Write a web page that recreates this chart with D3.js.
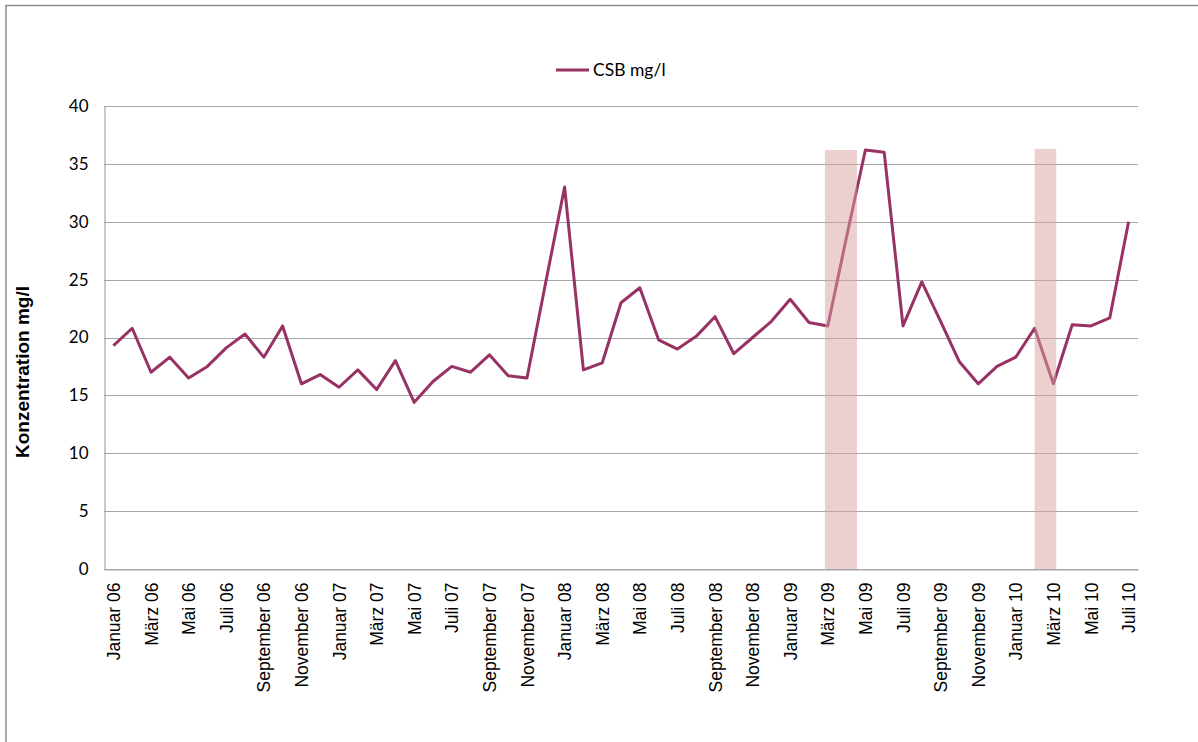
<!DOCTYPE html>
<html>
<head>
<meta charset="utf-8">
<script src="https://cdn.jsdelivr.net/npm/d3@7"></script>
<style>
  body { margin: 0; background: #fff; }
</style>
</head>
<body>
<div id="chart"></div>
<script>
// month names and years -> category labels (Januar 06 ... Juli 10)
const monthNames = ["Januar", "Februar", "März", "April", "Mai", "Juni", "Juli", "August", "September", "Oktober", "November", "Dezember"];
const years = ["06", "07", "08", "09", "10"];
const months = [];
years.forEach(function(y) {
    monthNames.forEach(function(m) { months.push(m + " " + y); });
});
months.length = 55;  // data ends with Juli 10

// CSB mg/l, one value per month
const csb = [
    19.3, 20.8, 17.0, 18.3, 16.5, 17.5, 19.1, 20.3, 18.3, 21.0, 16.0, 16.8,
    15.7, 17.2, 15.5, 18.0, 14.4, 16.2, 17.5, 17.0, 18.5, 16.7, 16.5, 24.8,
    33.0, 17.2, 17.8, 23.0, 24.3, 19.8, 19.0, 20.1, 21.8, 18.6, 20.0, 21.4,
    23.3, 21.3, 21.0, 28.7, 36.2, 36.0, 21.0, 24.8, 21.4, 17.9, 16.0, 17.5,
    18.3, 20.8, 16.0, 21.1, 21.0, 21.7, 30.0
];

const yTicks = [0, 5, 10, 15, 20, 25, 30, 35, 40];

// shaded periods, in month index units
const highlightStart = [37.85, 49.0];
const highlightEnd = [39.55, 50.15];
const highlightTop = [36.2, 36.3];

let width = 1198, height = 742;
let margin = {top: 106, right: 60, bottom: 173, left: 104};

let svg = d3.select("#chart")
  .append("svg")
    .attr("width", width)
    .attr("height", height);

// outer frame
svg.append("rect")
    .attr("x", 6).attr("y", 5.5)
    .attr("width", 1400).attr("height", 1000)
    .attr("fill", "none")
    .attr("stroke", "#8c8c8c")
    .attr("stroke-width", 1.5);

// Scales
let x = d3.scaleLinear()
    .domain([-0.5, months.length - 0.5])
    .range([margin.left, width - margin.right]);
let y = d3.scaleLinear()
    .domain([0, 40])
    .range([height - margin.bottom, margin.top]);

// gridlines
svg.append("g")
  .selectAll("line")
  .data(yTicks)
  .enter()
  .append("line")
    .attr("x1", x(-0.5))
    .attr("x2", x(months.length - 0.5))
    .attr("y1", function(d) { return Math.round(y(d)) + 0.5; })
    .attr("y2", function(d) { return Math.round(y(d)) + 0.5; })
    .attr("stroke", "#a6a6a6")
    .attr("stroke-width", 1.2);

// y axis
let yAxis = svg.append("g")
    .attr("transform", "translate(" + (margin.left + 0.5) + ",0)")
    .call(d3.axisLeft(y).tickValues(yTicks).tickSize(0).tickPadding(16));
yAxis.select(".domain").attr("stroke", "#a6a6a6").attr("stroke-width", 1.2);
yAxis.selectAll("text")
    .style("font-family", "Lato, 'Open Sans', sans-serif")
    .style("font-size", "17px")
    .attr("fill", "#000");

// x axis
let xAxis = svg.append("g")
    .attr("transform", "translate(0," + (Math.round(y(0)) + 0.5) + ")")
    .call(d3.axisBottom(x)
        .tickValues(d3.range(0, months.length, 2))
        .tickFormat(function(i) { return months[i]; })
        .tickSize(0));
xAxis.select(".domain").attr("stroke", "#a6a6a6").attr("stroke-width", 1.2);
xAxis.selectAll("text")
    .attr("transform", "rotate(-90)")
    .attr("text-anchor", "end")
    .attr("x", -13)
    .attr("y", 0)
    .attr("dy", "0.35em")
    .style("font-family", "'Liberation Sans', Arial, sans-serif")
    .style("font-size", "17.5px")
    .attr("fill", "#000");

// the line
let line = d3.line()
    .x(function(d, i) { return x(i); })
    .y(function(d) { return y(d); });

svg.append("path")
    .datum(csb)
    .attr("fill", "none")
    .attr("stroke", "#983265")
    .attr("stroke-width", 3)
    .attr("stroke-linejoin", "round")
    .attr("d", line);

// shaded periods (drawn on top, semi transparent)
svg.append("g")
  .selectAll("rect")
  .data(highlightStart)
  .enter()
  .append("rect")
    .attr("x", function(d) { return x(d); })
    .attr("width", function(d, i) { return x(highlightEnd[i]) - x(d); })
    .attr("y", function(d, i) { return y(highlightTop[i]); })
    .attr("height", function(d, i) { return y(0) - y(highlightTop[i]); })
    .attr("fill", "rgb(218,160,160)")
    .attr("fill-opacity", 0.5);

// y axis title
svg.append("text")
    .attr("transform", "translate(29,372) rotate(-90)")
    .attr("text-anchor", "middle")
    .style("font-family", "'Liberation Sans', Arial, sans-serif")
    .style("font-size", "19px")
    .style("font-weight", "bold")
    .text("Konzentration mg/l");

// legend
let legend = svg.append("g");
legend.append("line")
    .attr("x1", 556).attr("x2", 589)
    .attr("y1", 70).attr("y2", 70)
    .attr("stroke", "#983265")
    .attr("stroke-width", 3);
legend.append("text")
    .attr("x", 593)
    .attr("y", 70)
    .attr("dy", "0.35em")
    .style("font-family", "Lato, 'Open Sans', sans-serif")
    .style("font-size", "17.5px")
    .text("CSB mg/l");
</script>
</body>
</html>
